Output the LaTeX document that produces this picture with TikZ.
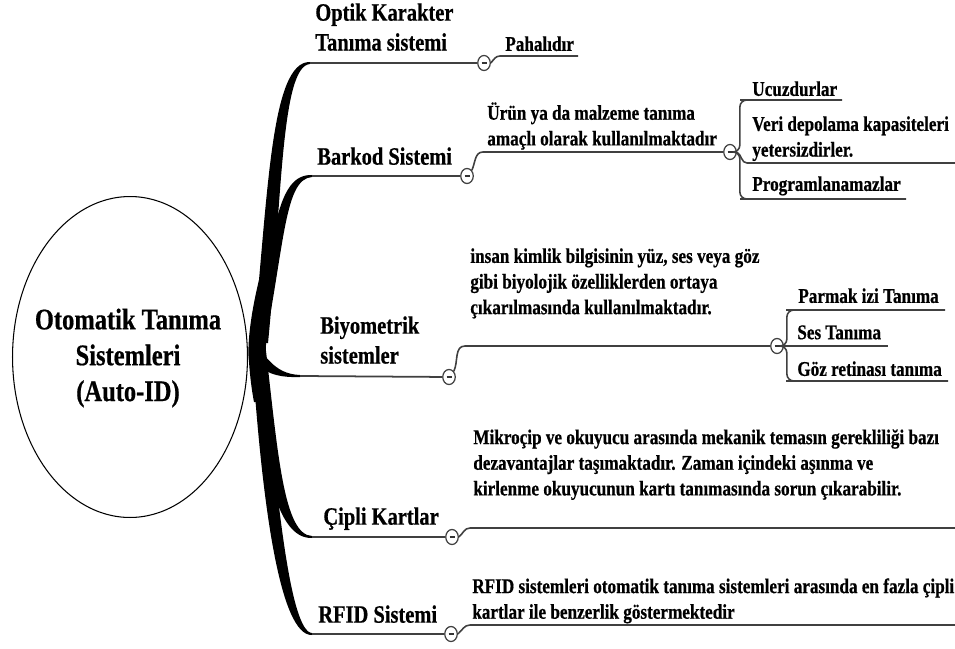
\documentclass[tikz,border=0pt]{standalone}
\usepackage{fontspec}
\setmainfont{Liberation Serif}[FakeStretch=0.82, BoldFeatures={FakeBold=0.6}]
\usepackage{tikz}
\usetikzlibrary{shapes.geometric,calc}

\begin{document}
\begin{tikzpicture}[
        x=0.02cm,
        y=-0.02cm,
        limb/.style={fill=black},
        bough/.style={draw=black!75, line width=1pt},
        twig/.style={draw=black!75, line width=0.9pt},
        fold/.style={
            ellipse,
            draw=black!75,
            fill=white,
            line width=0.7pt,
            inner sep=0pt,
            minimum width=0.25cm,
            minimum height=0.3cm,
            path picture={\draw[black!80, line width=0.9pt]
                ($(path picture bounding box.center)+(-2.5,0)$) -- ($(path picture bounding box.center)+(2.5,0)$);}
        },
        topic/.style={
            anchor=north west,
            inner sep=0pt,
            align=left,
            font=\bfseries\fontsize{14.2}{17}\selectfont
        },
        note/.style={
            anchor=north west,
            inner sep=0pt,
            align=left,
            font=\bfseries\fontsize{11.9}{14.6}\selectfont
        }
    ]

    \fill[white] (0,0) rectangle (955,648);
    \useasboundingbox (0,0) rectangle (955,648);

    % CENTRE
    \node[ellipse, draw, line width=0.6pt, minimum width=4.7cm, minimum height=6.42cm, inner sep=0pt] (root) at (130,357) {};
    \node[align=center, font=\bfseries\fontsize{17}{20.4}\selectfont] (rootText) at (128,358)
          {Otomatik Tanıma\\Sistemleri\\(Auto-ID)};

    % MAIN TOPICS
    \coordinate (optikL) at (310,63);
    \coordinate (barkL) at (312,176);
    \coordinate (biyoL) at (300,376);
    \coordinate (cipL) at (312,537);
    \coordinate (rfidL) at (312,634);

    \node[topic] (optik) at (315,3) {Optik Karakter\\Tanıma sistemi};
    \node[topic] (barkod) at (317,147) {Barkod Sistemi};
    \node[topic] (biyo) at (320,316) {Biyometrik\\sistemler};
    \node[topic] (cip) at (323,507) {Çipli Kartlar};
    \node[topic] (rfid) at (318,605) {RFID Sistemi};

    \node[fold] (mOptik) at (484,63) {};
    \node[fold] (mBarkod) at (467,176) {};
    \node[fold] (mBiyo) at (449,377) {};
    \node[fold] (mCip) at (452,537) {};
    \node[fold] (mRfid) at (451,634) {};
    \node[fold] (mBarkodAlt) at (730,152) {};
    \node[fold] (mBiyoAlt) at (777,346) {};

    % SUB TOPICS
    \coordinate (pahL) at (500,56);
    \coordinate (pahR) at (578,56);
    \coordinate (urunL) at (483,152);
    \coordinate (ucuzL) at (747,100);
    \coordinate (ucuzR) at (842,100);
    \coordinate (veriL) at (747,163);
    \coordinate (veriR) at (960,163);
    \coordinate (progL) at (747,199);
    \coordinate (progR) at (906,199);
    \coordinate (biyoDL) at (465,346);
    \coordinate (parmL) at (793,310);
    \coordinate (parmR) at (945,310);
    \coordinate (sesL) at (793,346);
    \coordinate (sesR) at (888,346);
    \coordinate (gozL) at (793,381);
    \coordinate (gozR) at (948,381);
    \coordinate (cipDL) at (470,528);
    \coordinate (cipDR) at (960,528);
    \coordinate (rfidDL) at (470,625);
    \coordinate (rfidDR) at (960,625);

    \node[note] (pahali) at (505,36) {Pahalıdır};
    \node[note] (urun) at (487,102) {Ürün ya da malzeme tanıma\\amaçlı olarak kullanılmaktadır};
    \node[note] (ucuz) at (752,81) {Ucuzdurlar};
    \node[note] (veri) at (752,116) {Veri depolama kapasiteleri\\yetersizdirler.};
    \node[note] (prog) at (752,176) {Programlanamazlar};
    \node[note] (insan) at (470,248) {insan kimlik bilgisinin yüz, ses veya göz\\gibi biyolojik özelliklerden ortaya\\çıkarılmasında kullanılmaktadır.};
    \node[note] (parmak) at (798,288) {Parmak izi Tanıma};
    \node[note] (ses) at (797,325) {Ses Tanıma};
    \node[note] (goz) at (797,361) {Göz retinası tanıma};
    \node[note] (mikro) at (473,429) {Mikroçip ve okuyucu arasında mekanik temasın gerekliliği bazı\\dezavantajlar taşımaktadır. Zaman içindeki aşınma ve\\kirlenme okuyucunun kartı tanımasında sorun çıkarabilir.};
    \node[note] (rfidnot) at (472,578) {RFID sistemleri otomatik tanıma sistemleri arasında en fazla çipli\\kartlar ile benzerlik göstermektedir};

    % ============================================================
    % CONNECTIONS: thick limbs from the centre
    % ============================================================
    \fill[limb] ($(root.east)+(11,-77)$) .. controls ($(root.east)+(2,-40)$) and ($(root.east)+(-1,-10)$) .. ($(root.east)+(1,5)$)
        .. controls ($(root.east)+(2,20)$) and ($(root.east)+(4,35)$) .. ($(root.east)+(6,45)$)
        -- ($(root.east)+(23,45)$) .. controls ($(root.east)+(19,20)$) and ($(root.east)+(17,0)$) .. ($(root.east)+(18,-12)$)
        .. controls ($(root.east)+(19,-40)$) and ($(root.east)+(22,-60)$) .. ($(root.east)+(25,-77)$) -- cycle;
    \fill[limb] ($(root.east)+(5,-14)$) .. controls (268,200) and (270,61) .. ($(optikL)+(0,-1)$)
        -- ($(optikL)+(0,1)$) .. controls (281,66) and (282,200) .. ($(root.east)+(20,-14)$) -- cycle;
    \fill[limb] ($(root.east)+(5,-12)$) .. controls (274,235) and (276,174) .. ($(barkL)+(0,-1)$)
        -- ($(barkL)+(0,1)$) .. controls (285,179) and (285,240) .. ($(root.east)+(16,-8)$) -- cycle;
    \fill[limb] ($(root.east)+(6,-10)$) .. controls (266,352) and (272,374) .. ($(biyoL)+(0,-1)$)
        -- ($(biyoL)+(0,1)$) .. controls (272,378) and (266,370) .. ($(root.east)+(6,8)$) -- cycle;
    \fill[limb] ($(root.east)+(4,-6)$) .. controls (262,465) and (276,539) .. ($(cipL)+(0,1)$)
        -- ($(cipL)+(0,-1)$) .. controls (284,535) and (278,455) .. ($(root.east)+(18,-6)$) -- cycle;
    \fill[limb] ($(root.east)+(4,-4)$) .. controls (262,505) and (280,636) .. ($(rfidL)+(0,1)$)
        -- ($(rfidL)+(0,-1)$) .. controls (290,632) and (276,495) .. ($(root.east)+(16,-4)$) -- cycle;

    % ============================================================
    % CONNECTIONS: topic lines
    % ============================================================
    \draw[bough] (optikL) -- (mOptik);
    \draw[bough] (barkL) -- (mBarkod);
    \draw[bough] (biyoL) -- (mBiyo);
    \draw[bough] (cipL) -- (mCip);
    \draw[bough] (rfidL) -- (mRfid);

    % ============================================================
    % CONNECTIONS: sub topics
    % ============================================================
    \draw[twig] (mOptik.east) to[out=50, in=180] (pahL) -- (pahR);
    \draw[twig] (mBarkod.north east) to[out=65, in=180] (urunL) -- (mBarkodAlt);
    \draw[twig, rounded corners=0.14cm] (mBarkodAlt.east) -- ++(3,0) |- (ucuzL) -- (ucuzR);
    \draw[twig] (mBarkodAlt.east) to[out=-30, in=180] (veriL) -- (veriR);
    \draw[twig, rounded corners=0.14cm] (mBarkodAlt.east) -- ++(3,0) |- (progL) -- (progR);

    \draw[twig] (mBiyo.north east) to[out=65, in=180] (biyoDL) -- (mBiyoAlt);
    \draw[twig, rounded corners=0.14cm] (mBiyoAlt.east) -- ++(3,0) |- (parmL) -- (parmR);
    \draw[twig] (mBiyoAlt.east) -- (sesL) -- (sesR);
    \draw[twig, rounded corners=0.14cm] (mBiyoAlt.east) -- ++(3,0) |- (gozL) -- (gozR);

    \draw[twig] (mCip.east) to[out=40, in=180] (cipDL) -- (cipDR);
    \draw[twig] (mRfid.east) to[out=40, in=180] (rfidDL) -- (rfidDR);

\end{tikzpicture}
\end{document}
